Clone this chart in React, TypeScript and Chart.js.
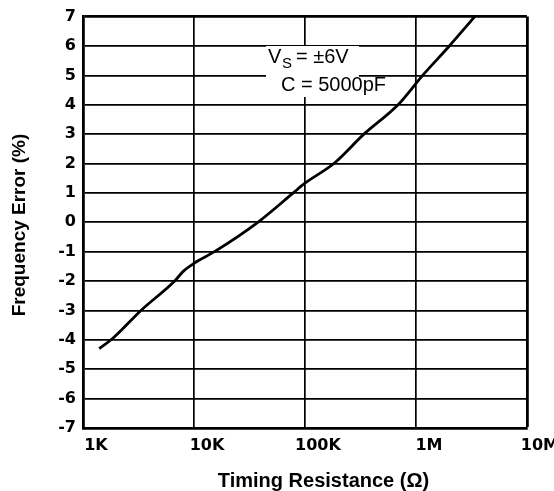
import React, { useEffect, useRef } from "react";
import { Chart, registerables } from "chart.js";

Chart.register(...registerables);

// ---- data ----
const resistance = [1400, 1880, 3330, 6700, 8000, 10000, 15300, 37600, 78500, 100000, 182000, 340000, 690000, 1150000, 2000000, 3390000];
const freqError = [-4.3, -3.93, -3.0, -2.0, -1.67, -1.4, -1.0, 0, 1.0, 1.33, 2.0, 3.0, 4.0, 5.0, 6.0, 7.0];

const xTickValues = [1e3, 1e4, 1e5, 1e6, 1e7];
const xTickLabels = ["1K", "10K", "100K", "1M", "10M"];
const yMin = -7;
const yMax = 7;

const xTitle = "Timing Resistance (Ω)";
const yTitle = "Frequency Error (%)";
const noteMain = "V";
const noteSub = "S";
const noteRest = "= ±6V";
const noteLine2 = "C = 5000pF";

const W = 554;
const H = 491;

const overlayPlugin = {
  id: "overlay",
  beforeDatasetsDraw(chart: any) {
    const ctx = chart.ctx;
    ctx.save();
    // white label box that hides the grid behind the note
    ctx.fillStyle = "#fff";
    ctx.fillRect(266, 46, 93, 51);
    ctx.fillStyle = "#000";
    ctx.textBaseline = "alphabetic";
    ctx.textAlign = "left";
    ctx.font = '20px "Liberation Sans", Arial, sans-serif';
    ctx.fillText(noteMain, 268, 63);
    ctx.fillText(noteRest, 296, 63);
    ctx.fillText(noteLine2, 281, 91);
    ctx.font = '15px "Liberation Sans", Arial, sans-serif';
    ctx.fillText(noteSub, 282, 68);
    ctx.restore();
  },
  afterDraw(chart: any) {
    const ctx = chart.ctx;
    ctx.save();
    ctx.fillStyle = "#000";
    ctx.textAlign = "center";
    ctx.textBaseline = "alphabetic";
    ctx.font = 'bold 20px "Liberation Sans", Arial, sans-serif';
    ctx.fillText(xTitle, 323.5, 487);
    ctx.translate(25, 225);
    ctx.rotate(-Math.PI / 2);
    ctx.font = 'bold 19px "Liberation Sans", Arial, sans-serif';
    ctx.fillText(yTitle, 0, 0);
    ctx.restore();
  },
};

export default function App() {
  const ref = useRef<HTMLCanvasElement | null>(null);

  useEffect(() => {
    if (!ref.current) return;
    const chart = new Chart(ref.current, {
      type: "line",
      data: {
        datasets: [
          {
            data: resistance.map((r, i) => ({ x: r, y: freqError[i] })),
            borderColor: "#000",
            borderWidth: 2.8,
            pointRadius: 0,
            fill: false,
            cubicInterpolationMode: "monotone",
          },
        ],
      },
      options: {
        responsive: false,
        animation: false,
        devicePixelRatio: 1,
        layout: { padding: { left: 0, top: 13, right: 27, bottom: 0 } },
        plugins: { legend: { display: false }, tooltip: { enabled: false }, title: { display: false } },
        scales: {
          x: {
            type: "logarithmic",
            min: xTickValues[0],
            max: xTickValues[xTickValues.length - 1],
            afterBuildTicks: (scale: any) => {
              scale.ticks = xTickValues.map((v) => ({ value: v }));
            },
            afterFit: (scale: any) => {
              scale.height = 63;
            },
            ticks: {
              color: "#000",
              padding: 8,
              labelOffset: 13,
              maxRotation: 0,
              autoSkip: false,
              font: { family: '"DejaVu Sans"', size: 16, weight: "bold" },
              callback: (value: any) => {
                const i = xTickValues.indexOf(Number(value));
                return i >= 0 ? xTickLabels[i] : "";
              },
            },
            grid: {
              color: "#000",
              drawTicks: false,
              lineWidth: (c: any) => (c.tick && c.tick.value === xTickValues[xTickValues.length - 1] ? 2.8 : 1.7),
            },
            border: { display: true, color: "#000", width: 2.8 },
          },
          y: {
            type: "linear",
            min: yMin,
            max: yMax,
            afterFit: (scale: any) => {
              scale.width = 83;
            },
            ticks: {
              color: "#000",
              stepSize: 1,
              padding: 7,
              autoSkip: false,
              font: { family: '"DejaVu Sans"', size: 16, weight: "bold" },
            },
            grid: {
              color: "#000",
              drawTicks: false,
              lineWidth: (c: any) => (c.tick && c.tick.value === yMax ? 2.8 : 1.7),
            },
            border: { display: true, color: "#000", width: 2.8 },
          },
        },
      },
      plugins: [overlayPlugin],
    } as any);
    return () => chart.destroy();
  }, []);

  return (
    <div style={{ position: "fixed", left: 0, top: 0, width: W, height: H, background: "#fff" }}>
      <canvas ref={ref} width={W} height={H} style={{ width: W, height: H, display: "block" }} />
    </div>
  );
}
